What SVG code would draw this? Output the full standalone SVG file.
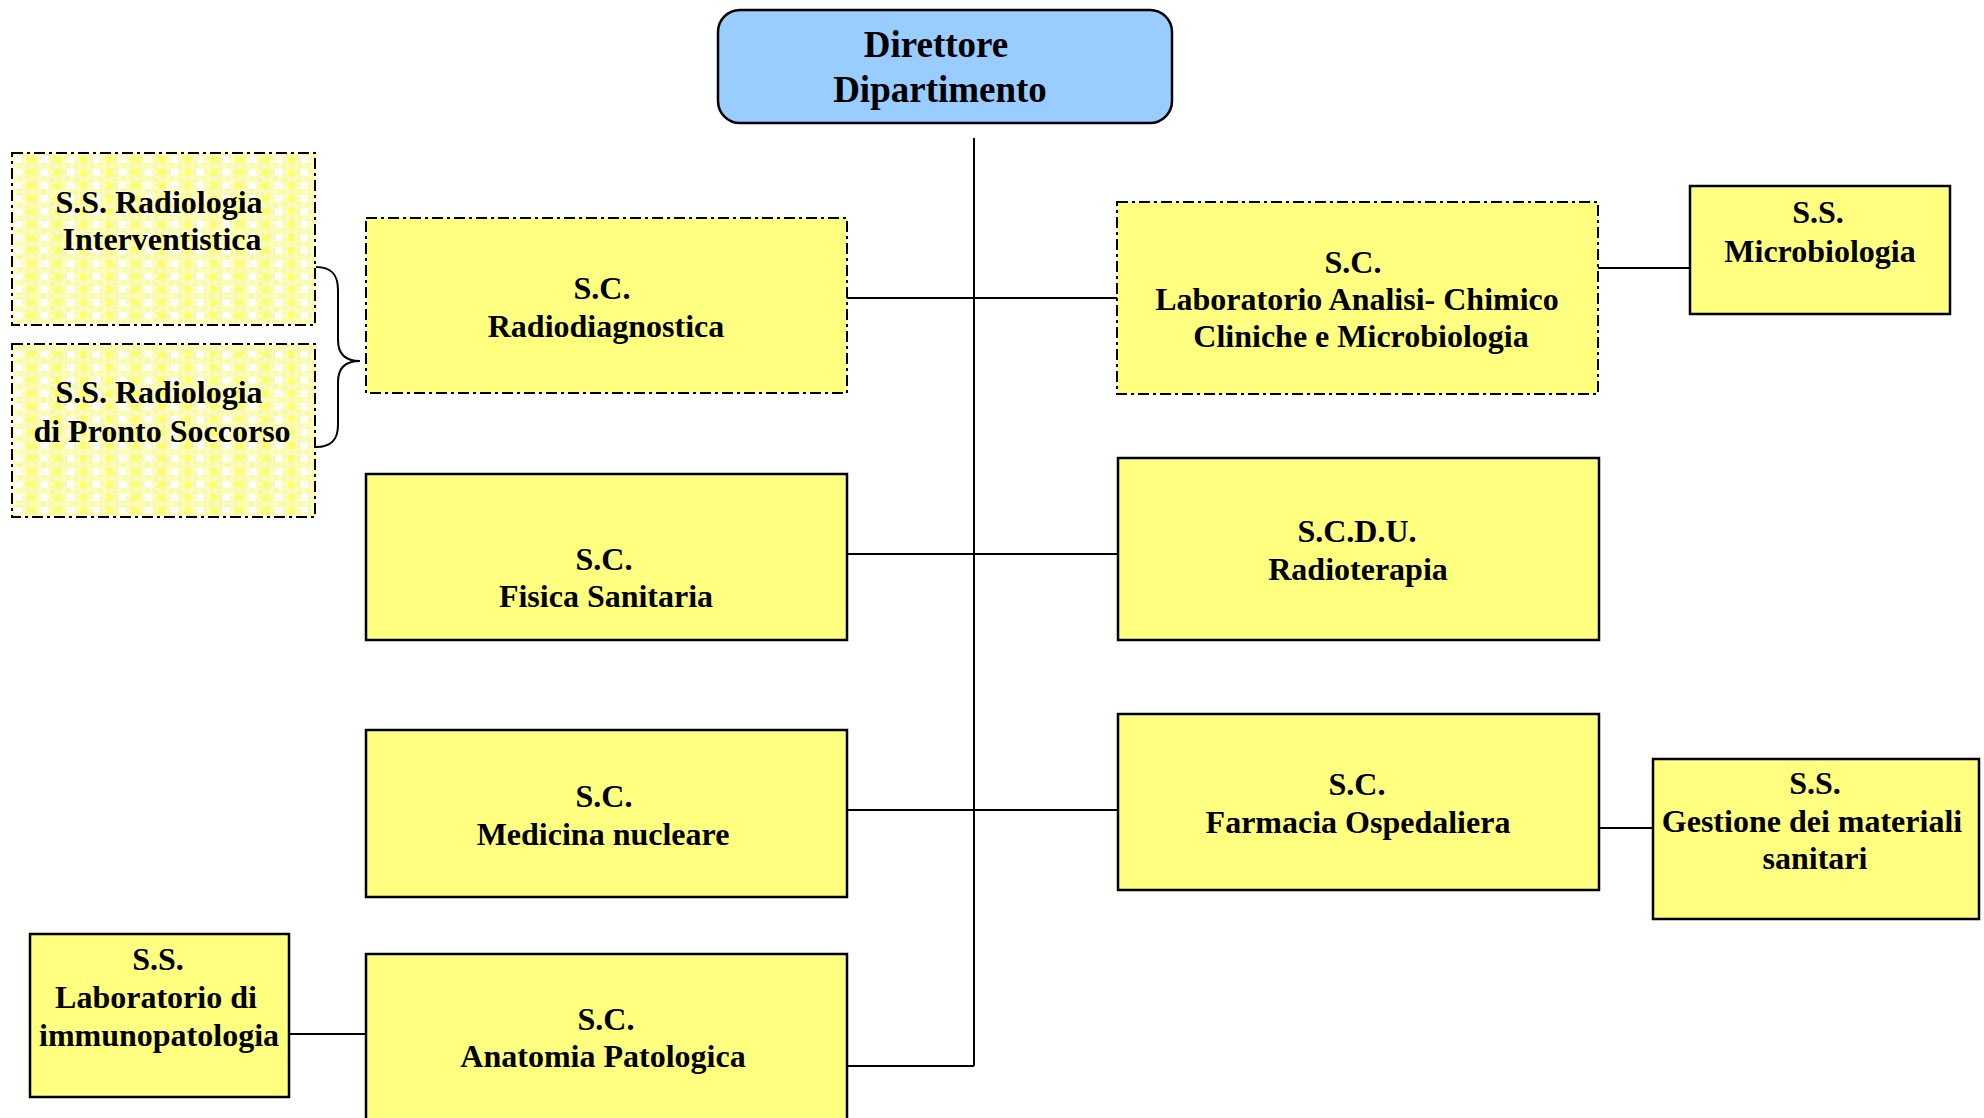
<svg xmlns="http://www.w3.org/2000/svg" width="1984" height="1118" viewBox="0 0 1984 1118">
<style>
text{font-family:"Liberation Serif","Times New Roman",serif;font-weight:bold;font-size:32px;fill:#000;text-anchor:middle}
.box{fill:#ffff80;stroke:#000;stroke-width:2.5}
.dash{stroke-dasharray:11,4,3,4;stroke-width:2}
.pat{fill:url(#plaid);stroke:#000;stroke-width:2;stroke-dasharray:11,4,3,4}
.conn{fill:none;stroke:#000;stroke-width:2}
.ss{font-size:32px}
</style>
<defs>
<pattern id="dots" width="2" height="2" patternUnits="userSpaceOnUse">
<rect width="2" height="2" fill="#ffffff"/>
<rect width="1" height="1" fill="#ffff70"/>
<rect x="1" y="1" width="1" height="1" fill="#ffff70"/>
</pattern>
<pattern id="plaid" x="12" y="153" width="26" height="13" patternUnits="userSpaceOnUse">
<rect width="26" height="13" fill="url(#dots)"/>
<rect x="3" y="3" width="7" height="7" fill="#ffffff"/>
<rect x="16" y="3" width="7" height="7" fill="#ffff70"/>
</pattern>
</defs>

<g id="connectors">
<path class="conn" d="M974 138V1066"/>
<path class="conn" d="M847 298H1117"/>
<path class="conn" d="M847 554H1117"/>
<path class="conn" d="M847 810H1117"/>
<path class="conn" d="M847 1066H974"/>
<path class="conn" d="M1598 268H1693"/>
<path class="conn" d="M1599 828H1653"/>
<path class="conn" d="M289 1034H366"/>
<path class="conn" d="M316 267C330 267 338 273 338 290V340C338 354 346 361 360 361C346 361 338 368 338 382V425C338 441 330 447 316 447"/>
</g>

<g id="direttore">
<rect x="718" y="10" width="454" height="113" rx="22" fill="#99ccff" stroke="#000" stroke-width="2.5"/>
<text x="936" y="57" style="font-size:37px">Direttore</text>
<text x="940" y="102" style="font-size:37px">Dipartimento</text>
</g>

<g id="ss-interventistica">
<rect class="pat" x="12" y="153" width="303" height="172"/>
<text class="ss" x="159" y="213">S.S. Radiologia</text>
<text class="ss" x="162" y="250">Interventistica</text>
</g>

<g id="ss-pronto-soccorso">
<rect class="pat" x="12" y="344" width="303" height="173"/>
<text class="ss" x="159" y="403">S.S. Radiologia</text>
<text class="ss" x="162" y="442">di Pronto Soccorso</text>
</g>

<g id="sc-radiodiagnostica">
<rect class="box dash" x="366" y="218" width="481" height="175"/>
<text x="602" y="299">S.C.</text>
<text x="606" y="337">Radiodiagnostica</text>
</g>

<g id="sc-laboratorio-analisi">
<rect class="box dash" x="1117" y="202" width="481" height="192"/>
<text x="1353" y="273">S.C.</text>
<text x="1357" y="310">Laboratorio Analisi- Chimico</text>
<text x="1361" y="347">Cliniche e Microbiologia</text>
</g>

<g id="ss-microbiologia">
<rect class="box" x="1690" y="186" width="260" height="128"/>
<text x="1818" y="223">S.S.</text>
<text x="1820" y="262">Microbiologia</text>
</g>

<g id="sc-fisica-sanitaria">
<rect class="box" x="366" y="474" width="481" height="166"/>
<text x="604" y="570">S.C.</text>
<text x="606" y="607">Fisica Sanitaria</text>
</g>

<g id="scdu-radioterapia">
<rect class="box" x="1118" y="458" width="481" height="182"/>
<text x="1357" y="542">S.C.D.U.</text>
<text x="1358" y="580">Radioterapia</text>
</g>

<g id="sc-medicina-nucleare">
<rect class="box" x="366" y="730" width="481" height="167"/>
<text x="604" y="807">S.C.</text>
<text x="603" y="845">Medicina nucleare</text>
</g>

<g id="sc-farmacia">
<rect class="box" x="1118" y="714" width="481" height="176"/>
<text x="1357" y="795">S.C.</text>
<text x="1358" y="833">Farmacia Ospedaliera</text>
</g>

<g id="ss-gestione-materiali">
<rect class="box" x="1653" y="759" width="326" height="160"/>
<text x="1815" y="794">S.S.</text>
<text x="1812" y="832">Gestione dei materiali</text>
<text x="1815" y="869">sanitari</text>
</g>

<g id="ss-immunopatologia">
<rect class="box" x="30" y="934" width="259" height="163"/>
<text class="ss" x="158" y="970">S.S.</text>
<text class="ss" x="156" y="1008">Laboratorio di</text>
<text class="ss" x="159" y="1046">immunopatologia</text>
</g>

<g id="sc-anatomia-patologica">
<rect class="box" x="366" y="954" width="481" height="200"/>
<text x="606" y="1030">S.C.</text>
<text x="603" y="1067">Anatomia Patologica</text>
</g>
</svg>
